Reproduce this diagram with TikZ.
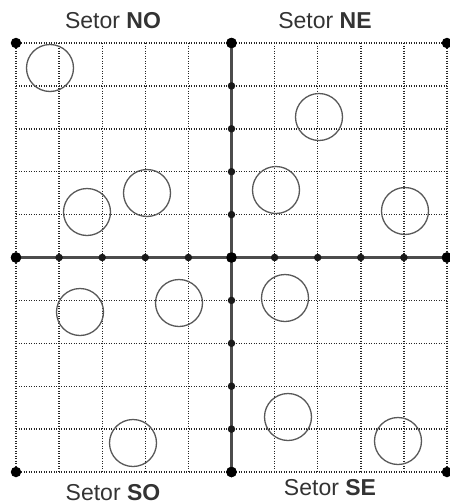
\documentclass[tikz,border=0pt]{standalone}
\usepackage{fontspec}
\setmainfont{Liberation Sans}
\begin{document}
\begin{tikzpicture}[x=1pt,y=-1pt,
  gridline/.style={draw=black!85, line width=1.4pt, dash pattern=on 1.3pt off 1.2pt},
  axisline/.style={draw=black!70, line width=2.4pt},
  bigdot/.style={circle, fill=black, inner sep=0pt, minimum size=10.5pt},
  smalldot/.style={circle, fill=black!90, inner sep=0pt, minimum size=7.5pt},
  ring/.style={circle, draw=black!65, line width=1.3pt, inner sep=0pt, minimum size=47pt},
  label/.style={font=\fontsize{23}{26}\selectfont, text=black!80, inner sep=0pt, anchor=base}]
\useasboundingbox (0,0) rectangle (450,504);
% grid
\foreach \i in {0,...,10} {
  \pgfmathsetmacro{\gx}{16+43.1*\i}
  \pgfmathsetmacro{\gy}{43+42.9*\i}
  \draw[gridline] (\gx,43) -- (\gx,472);
  \draw[gridline] (16,\gy) -- (447,\gy);
}
% corner dots
\node[bigdot] (tl) at (16,43) {};
\node[bigdot] (tc) at (231.5,43) {};
\node[bigdot] (tr) at (447,43) {};
\node[bigdot] (ml) at (16,257.5) {};
\node[bigdot] (o) at (231.5,257.5) {};
\node[bigdot] (mr) at (447,257.5) {};
\node[bigdot] (bl) at (16,472) {};
\node[bigdot] (bc) at (231.5,472) {};
\node[bigdot] (br) at (447,472) {};
% axes
\draw[axisline] (ml.center) -- (mr.center);
\draw[axisline] (tc.center) -- (bc.center);
\node[bigdot] at (ml) {};
\node[bigdot] at (mr) {};
\node[bigdot] at (tc) {};
\node[bigdot] at (bc) {};
\node[bigdot] at (o) {};
% axis dots
\foreach \i in {1,2,3,4,6,7,8,9} {
  \pgfmathsetmacro{\gx}{16+43.1*\i}
  \pgfmathsetmacro{\gy}{43+42.9*\i}
  \node[smalldot] (hx\i) at (\gx,257.5) {};
  \node[smalldot] (vy\i) at (231.5,\gy) {};
}
% circles
\node[ring] (c1) at (50,68) {};
\node[ring] (c2) at (147,193) {};
\node[ring] (c3) at (87,212) {};
\node[ring] (c4) at (80,312) {};
\node[ring] (c5) at (179,303) {};
\node[ring] (c6) at (133,443) {};
\node[ring] (c7) at (319,117) {};
\node[ring] (c8) at (276,190) {};
\node[ring] (c9) at (405,211) {};
\node[ring] (c10) at (285,298) {};
\node[ring] (c11) at (288,417) {};
\node[ring] (c12) at (398,441) {};
% labels
\node[label] (no) at (113,28) {Setor \textbf{NO}};
\node[label] (ne) at (325,28) {Setor \textbf{NE}};
\node[label] (so) at (113,500) {Setor \textbf{SO}};
\node[label] (se) at (330,495) {Setor \textbf{SE}};
\end{tikzpicture}
\end{document}
